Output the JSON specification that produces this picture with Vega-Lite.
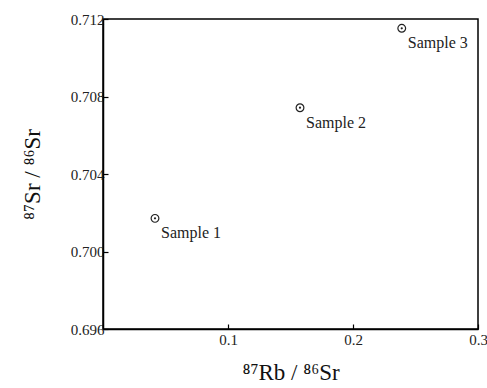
{
  "$schema": "https://vega.github.io/schema/vega-lite/v6.json",
  "autosize": "none",
  "width": 375,
  "height": 310,
  "padding": {"left": 103, "top": 19, "right": 9, "bottom": 59},
  "background": "white",
  "data": {"values": [
    {"rb": 0.0416, "sr": 0.70171, "label": "Sample 1"},
    {"rb": 0.1576, "sr": 0.70742, "label": "Sample 2"},
    {"rb": 0.2390, "sr": 0.71152, "label": "Sample 3"}
  ]},
  "config": {
    "view": {"stroke": "black", "strokeWidth": 1.5},
    "axis": {
      "labelFont": "Liberation Serif",
      "labelFontSize": 15,
      "labelColor": "#222",
      "labelFlush": false,
      "labelOverlap": false,
      "titleFont": "Liberation Serif",
      "titleFontWeight": "normal",
      "titleColor": "#111",
      "titleFontSize": 23,
      "domainColor": "black",
      "domainWidth": 1.5,
      "tickColor": "black",
      "tickWidth": 1.2,
      "grid": false
    }
  },
  "encoding": {
    "x": {"field": "rb", "type": "quantitative",
      "scale": {"domain": [0, 0.3], "nice": false, "zero": false},
      "axis": {"values": [0.1, 0.2, 0.3], "format": ".1f", "tickSize": -5, "labelPadding": 8,
        "title": "⁸⁷Rb / ⁸⁶Sr", "titlePadding": 14}},
    "y": {"field": "sr", "type": "quantitative",
      "scale": {"domain": [0.696, 0.712], "nice": false, "zero": false},
      "axis": {"values": [0.696, 0.7, 0.704, 0.708, 0.712], "format": ".3f", "tickSize": -5, "labelPadding": 4,
        "title": "⁸⁷Sr / ⁸⁶Sr", "titlePadding": 26}}
  },
  "layer": [
    {"mark": {"type": "point", "shape": "circle", "size": 60, "stroke": "#222", "strokeWidth": 1.2, "filled": false, "opacity": 1}},
    {"mark": {"type": "point", "shape": "circle", "size": 5, "fill": "#222", "filled": true, "opacity": 1}},
    {"mark": {"type": "text", "align": "left", "baseline": "alphabetic", "dx": 6, "dy": 20, "font": "Liberation Serif", "fontSize": 16, "color": "#222"},
      "encoding": {"text": {"field": "label"}}}
  ]
}
